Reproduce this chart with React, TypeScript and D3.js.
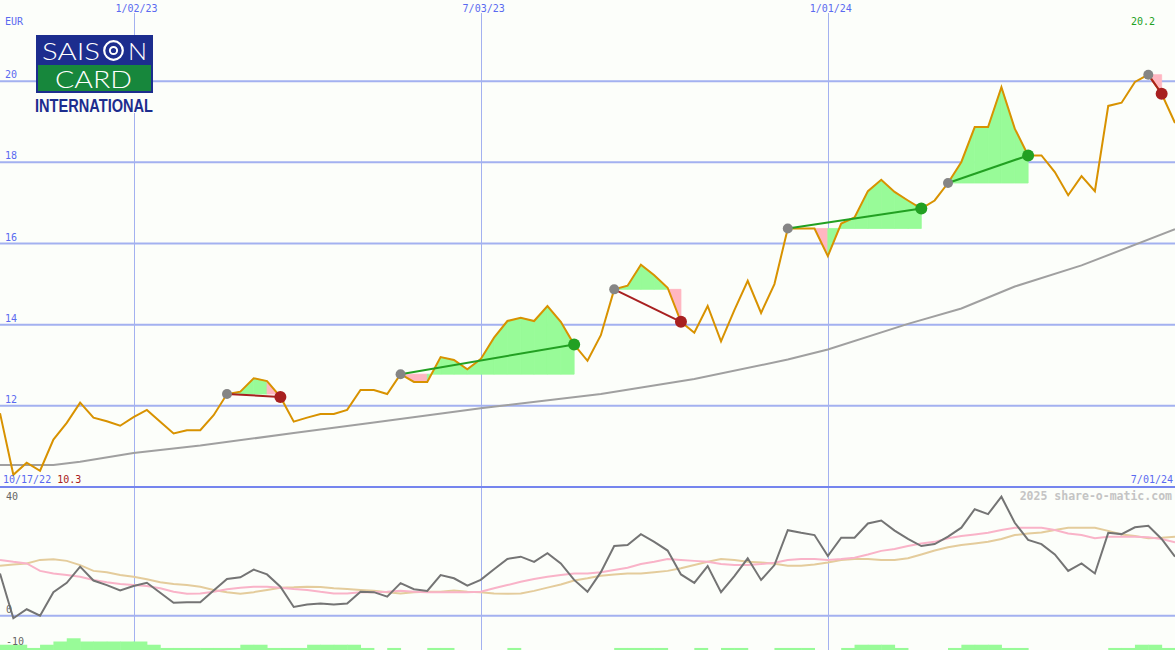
import * as d3 from "d3";

// weekly closes, first week 10/24/22, last week 7/01/24
const startDate = new Date(2022, 9, 24);
const endDate = new Date(2024, 6, 1);

const price = [
  11.82, 10.3, 10.6, 10.4, 11.17, 11.58, 12.08, 11.71, 11.62, 11.51,
  11.72, 11.9, 11.61, 11.32, 11.4, 11.4, 11.77, 12.29, 12.35, 12.68,
  12.61, 12.22, 11.61, 11.71, 11.8, 11.8, 11.9, 12.39, 12.39, 12.29,
  12.78, 12.59, 12.59, 13.2, 13.13, 12.9, 13.15, 13.68, 14.09, 14.17,
  14.09, 14.46, 14.07, 13.51, 13.11, 13.74, 14.87, 14.96, 15.48, 15.22,
  14.91, 14.07, 13.8, 14.46, 13.59, 14.36, 15.08, 14.29, 15.0, 16.37,
  16.37, 16.37, 15.69, 16.49, 16.64, 17.29, 17.57, 17.27, 17.06, 16.86,
  17.06, 17.49, 18.01, 18.87, 18.87, 19.85, 18.83, 18.17, 18.17, 17.76,
  17.19, 17.66, 17.29, 19.39, 19.47, 19.98, 20.16, 19.69, 18.97,
];

const momentum = [
  13.1, -0.8, 2.0, 0, 7.3, 10.2, 15.2, 10.9, 9.5, 7.8,
  9.2, 10.2, 7.1, 4.0, 4.2, 4.2, 7.8, 11.4, 11.9, 14.3,
  12.8, 9.0, 2.7, 3.5, 3.8, 3.5, 3.8, 7.4, 7.3, 5.9,
  10.1, 8.2, 7.7, 12.6, 11.6, 9.3, 11.1, 14.4, 17.6, 18.3,
  16.7, 19.4, 16.2, 11.1, 7.4, 13.5, 21.6, 21.9, 25.3, 22.9,
  20.2, 12.8, 10.2, 15.4, 7.3, 12.3, 17.8, 11.1, 15.7, 26.5,
  25.7, 25.0, 18.5, 24.2, 24.2, 28.6, 29.5, 26.4, 23.8, 21.6,
  22.2, 24.5, 27.3, 33.0, 31.5, 36.9, 28.8, 23.5, 22.2, 19.0,
  13.9, 16.2, 13.1, 25.7, 25.3, 27.4, 27.9, 23.8, 18.3,
];

const pinkAvg = [
  17.3, 16.7, 16.2, 13.9, 13.1, 12.6, 12.1, 11.1, 10.4, 9.8,
  9.5, 9.2, 8.5, 7.4, 6.8, 6.9, 7.4, 8.2, 8.7, 9.0,
  9.0, 8.7, 8.3, 8.0, 7.4, 6.9, 6.9, 7.3, 7.3, 7.4,
  7.7, 7.4, 7.3, 7.3, 7.3, 7.3, 7.4, 8.5, 9.5, 10.5,
  11.4, 12.1, 12.6, 13.1, 13.1, 13.5, 14.2, 14.9, 16.0, 16.7,
  17.6, 17.3, 17.0, 16.7, 16.0, 15.7, 15.7, 16.0, 16.4, 17.3,
  17.6, 17.6, 17.3, 17.6, 18.0, 19.0, 20.1, 20.7, 21.6, 22.4,
  22.9, 24.0, 24.7, 25.2, 25.7, 26.6, 27.3, 27.3, 27.3, 26.6,
  25.5, 25.0, 24.0, 24.5, 24.5, 24.5, 24.3, 23.8, 22.8,
];

const tanAvg = [
  15.5, 15.9, 16.2, 17.3, 17.5, 17.0, 15.7, 13.9, 13.5, 12.6,
  12.1, 11.3, 10.4, 9.8, 9.5, 9.0, 8.0, 7.3, 6.8, 7.3,
  8.0, 8.7, 8.8, 9.0, 8.9, 8.5, 8.3, 8.0, 7.7, 7.3,
  6.9, 7.3, 7.4, 7.4, 7.8, 7.4, 7.3, 6.9, 6.8, 6.9,
  7.7, 8.7, 9.7, 10.9, 11.6, 12.4, 12.8, 13.1, 13.1, 13.5,
  13.9, 14.7, 15.7, 16.7, 17.6, 17.3, 16.7, 16.5, 16.1, 15.5,
  15.5, 15.9, 16.5, 17.3, 17.6, 17.6, 17.3, 17.3, 17.8, 19.0,
  20.2, 21.2, 21.9, 22.4, 22.9, 23.8, 25.0, 25.5, 25.8, 26.6,
  27.3, 27.3, 27.3, 26.3, 25.2, 24.7, 24.0, 24.2, 24.5,
];

// bottom histogram, null = no bar
const activity: (number | null)[] = [
  -9, -9, -10, -9, -8, -7, -8, -8, -8, -8,
  -8, -9, -10, -10, -10, -10, -10, -10, -9, -9,
  -10, -10, -10, -9, -9, -9, -9, -10, null, -10,
  null, null, -10, -10, null, null, null, null, -10, null,
  null, null, null, null, null, null, -10, -10, -10, -10,
  null, null, -10, null, -10, -10, null, null, -10, -10,
  -10, null, null, -10, -9, -9, -9, -10, null, null,
  null, -10, -9, -9, -9, -10, -10, null, null, null,
  null, null, null, -10, -10, -9, -9, -10, null,
];

// long moving average, read at these weeks
const maWeeks = [0, 4, 6, 10, 15, 22, 28, 36, 45, 52, 59, 62, 68, 72, 76, 81, 88];
const maValues = [10.54, 10.54, 10.62, 10.84, 11.02, 11.33, 11.59, 11.94, 12.29, 12.66, 13.14, 13.39, 14.02, 14.4, 14.94, 15.46, 16.35];

const entries = [17, 30, 46, 59, 71, 86];
const exits = [21, 43, 51, 69, 77, 87];

const priceTicks = [12, 14, 16, 18, 20];
const indTicks = [40, 0, -10];
const gridDates = [new Date(2023, 0, 2), new Date(2023, 6, 3), new Date(2024, 0, 1)];
const gridLabels = ["1/02/23", "7/03/23", "1/01/24"];

const BG = "#fcfefa";
const BLUE = "#5a6af0";
const GRID = "#a3b1f0";
const GREEN = "#22a022";
const RED = "#a82020";
const MONO = "DejaVu Sans Mono, monospace";

export default function App() {
  const W = 1175;
  const H = 650;
  const weeks = price.map((_, i) => d3.timeDay.offset(startDate, i * 7));

  const x = d3.scaleTime().domain([startDate, endDate]).range([0, W]);
  const yP = d3.scaleLinear().domain([10, 22]).range([487, 0]);
  const yI = d3.scaleLinear().domain([0, 40]).range([615.7, 486.7]);

  const priceLine = d3.line<number>().x((d, i) => x(weeks[i])).y((d) => yP(d));
  const indLine = d3.line<number>().x((d, i) => x(weeks[i])).y((d) => yI(d));
  const maLine = d3
    .line<number>()
    .x((d, i) => x(weeks[maWeeks[i]]))
    .y((d) => yP(d));

  // one polygon per week between entry level and price
  const fills: { d: string; c: string }[] = [];
  entries.forEach((e, k) => {
    const lvl = price[e];
    const seg = d3
      .area<number>()
      .x((i) => x(weeks[i]))
      .y0(yP(lvl))
      .y1((i) => yP(price[i]));
    for (let i = e; i < exits[k]; i++) {
      fills.push({ d: seg([i, i + 1]) as string, c: price[i + 1] >= lvl ? "#98fb98" : "#ffb6c1" });
    }
  });

  return (
    <svg width={W} height={H} style={{ position: "absolute", left: 0, top: 0, display: "block" }}>
      <rect width={W} height={H} fill={BG} />

      {priceTicks.map((t) => (
        <line key={t} x1={0} x2={W} y1={yP(t)} y2={yP(t)} stroke={GRID} strokeWidth={2} />
      ))}
      <line x1={0} x2={W} y1={yI(0)} y2={yI(0)} stroke={GRID} strokeWidth={2} />
      {gridDates.map((d, i) => (
        <line
          key={i}
          x1={Math.round(x(d)) + 0.5}
          x2={Math.round(x(d)) + 0.5}
          y1={13}
          y2={H}
          stroke={GRID}
          strokeWidth={1}
        />
      ))}
      <line x1={0} x2={W} y1={487} y2={487} stroke="#7585ee" strokeWidth={2} />

      {activity.map((v, i) =>
        v === null ? null : (
          <rect
            key={i}
            x={x(weeks[i])}
            y={yI(v)}
            width={x(d3.timeDay.offset(weeks[i], 7)) - x(weeks[i]) + 0.5}
            height={H - yI(v)}
            fill="#98fb98"
          />
        )
      )}

      {fills.map((f, i) => (
        <path key={i} d={f.d} fill={f.c} stroke={f.c} strokeWidth={0.8} />
      ))}

      <path d={maLine(maValues) as string} fill="none" stroke="#a0a0a0" strokeWidth={2} />
      <path d={priceLine(price) as string} fill="none" stroke="#d89200" strokeWidth={2} />

      <path d={indLine(tanAvg) as string} fill="none" stroke="#e4cc9c" strokeWidth={2} />
      <path d={indLine(pinkAvg) as string} fill="none" stroke="#f9b3c8" strokeWidth={2} />
      <path d={indLine(momentum) as string} fill="none" stroke="#747474" strokeWidth={2} />

      {entries.map((e, k) => {
        const xe = exits[k];
        const win = price[xe] > price[e];
        return (
          <g key={k}>
            <line
              x1={x(weeks[e])}
              y1={yP(price[e])}
              x2={x(weeks[xe])}
              y2={yP(price[xe])}
              stroke={win ? GREEN : RED}
              strokeWidth={2}
            />
            <circle cx={x(weeks[e])} cy={yP(price[e])} r={5} fill="#858585" />
            <circle cx={x(weeks[xe])} cy={yP(price[xe])} r={6} fill={win ? GREEN : RED} />
          </g>
        );
      })}

      <g fontFamily={MONO} fontSize={10}>
        <text x={5} y={25} fill={BLUE}>EUR</text>
        {priceTicks.map((t) => (
          <text key={t} x={5} y={yP(t) - 3} fill={BLUE}>{t}</text>
        ))}
        {gridDates.map((d, i) => (
          <text key={i} x={x(d) + 3} y={12} fill={BLUE} textAnchor="middle">{gridLabels[i]}</text>
        ))}
        <text x={1155} y={25} fill={GREEN} textAnchor="end">{d3.max(price)!.toFixed(1)}</text>
        <text x={3} y={483}>
          <tspan fill={BLUE}>10/17/22 </tspan>
          <tspan fill={RED}>{d3.min(price)!.toFixed(1)}</tspan>
        </text>
        <text x={1173} y={483} fill={BLUE} textAnchor="end">7/01/24</text>
        {indTicks.map((t) => (
          <text key={t} x={6} y={t === 40 ? 500 : yI(t) - 2.5} fill="#666666">{t}</text>
        ))}
      </g>
      <text x={1172} y={500} fontFamily={MONO} fontSize={11.5} fontWeight="bold" fill="#c4c4c4" textAnchor="end">
        2025 share-o-matic.com
      </text>

      {/* logo */}
      <g>
        <rect x={36} y={35} width={117} height={58} fill="#1c2d8e" />
        <rect x={38} y={65} width={113} height={26} fill="#17873c" />
        <g fill="#ffffff" fontFamily="Lato, DejaVu Sans, sans-serif" fontWeight={300}>
          <text x={42} y={59.5} fontSize={24} textLength={58} lengthAdjust="spacingAndGlyphs">SAIS</text>
          <text x={128} y={59.5} fontSize={24} textLength={19} lengthAdjust="spacingAndGlyphs">N</text>
          <text x={55} y={87.5} fontSize={23} textLength={77} lengthAdjust="spacingAndGlyphs">CARD</text>
        </g>
        <circle cx={113.5} cy={50.5} r={9.3} fill="none" stroke="#ffffff" strokeWidth={2.2} />
        <circle cx={113.5} cy={50.5} r={3.6} fill="none" stroke="#ffffff" strokeWidth={2} />
        <rect x={35} y={93} width={119} height={20} fill={BG} />
        <text
          x={35}
          y={111.5}
          fontFamily="Liberation Sans Narrow, Liberation Sans, sans-serif"
          fontSize={19}
          fontWeight="bold"
          fill="#1c2d8e"
          textLength={118}
          lengthAdjust="spacingAndGlyphs"
        >
          INTERNATIONAL
        </text>
      </g>
    </svg>
  );
}
